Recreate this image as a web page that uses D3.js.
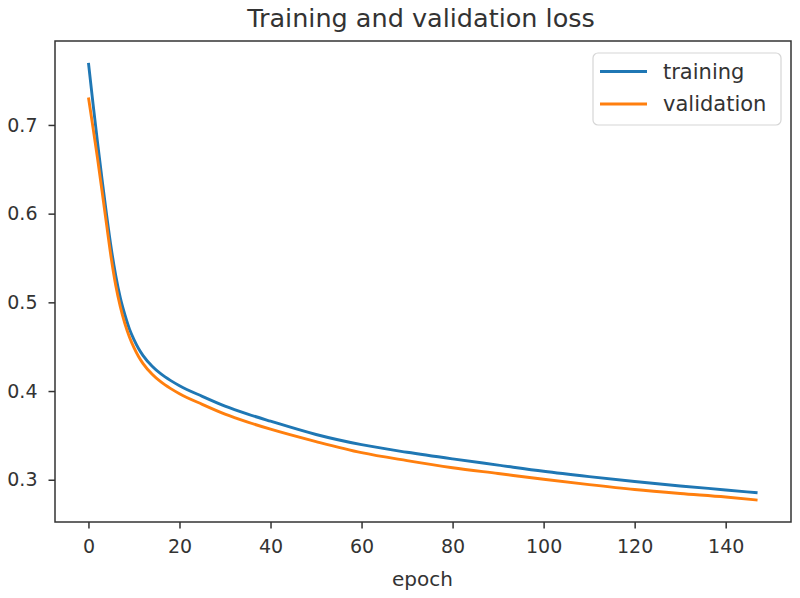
<!DOCTYPE html>
<html>
<head>
<meta charset="utf-8">
<script src="https://cdn.jsdelivr.net/npm/d3@7"></script>
<style>
  body { margin: 0; background: #fff; }
  svg text { font-family: "DejaVu Sans", sans-serif; fill: #333; }
</style>
</head>
<body>
<svg id="chart" width="800" height="598"></svg>
<script>
const epochs = [0, 1, 2, 3, 4, 5, 6, 7, 8, 9, 10, 11, 12, 14, 16, 18, 20, 25, 30, 35, 40, 50, 60, 70, 80, 90, 100, 110, 120, 130, 140, 147];
const training = [0.770, 0.724, 0.680, 0.638, 0.598, 0.561, 0.530, 0.505, 0.486, 0.470, 0.458, 0.448, 0.440, 0.428, 0.419, 0.412, 0.406, 0.394, 0.383, 0.374, 0.366, 0.351, 0.3395, 0.331, 0.3235, 0.3165, 0.3095, 0.3035, 0.298, 0.293, 0.2885, 0.2853];
const validation = [0.731, 0.697, 0.662, 0.625, 0.587, 0.550, 0.519, 0.495, 0.476, 0.461, 0.449, 0.439, 0.431, 0.419, 0.410, 0.403, 0.397, 0.385, 0.374, 0.365, 0.357, 0.343, 0.3305, 0.3215, 0.3135, 0.307, 0.3005, 0.2945, 0.289, 0.2845, 0.2805, 0.277];
const xTicks = [0, 20, 40, 60, 80, 100, 120, 140];
const yTicks = [0.3, 0.4, 0.5, 0.6, 0.7];
const series = [
  { name: "training", values: training, color: "#1f77b4" },
  { name: "validation", values: validation, color: "#ff7f0e" }
];

const svg = d3.select("#chart");
const mLeft = 55, mRight = 791, mTop = 41, mBottom = 522;

// matplotlib style 5% margins
const xExt = d3.extent(epochs);
const xPad = (xExt[1] - xExt[0]) * 0.05;
const yExt = d3.extent(training.concat(validation));
const yPad = (yExt[1] - yExt[0]) * 0.05;

const x = d3.scaleLinear().domain([xExt[0] - xPad, xExt[1] + xPad]).range([mLeft, mRight]);
const y = d3.scaleLinear().domain([yExt[0] - yPad, yExt[1] + yPad]).range([mBottom, mTop]);

const line = d3.line()
  .x(d => x(d[0]))
  .y(d => y(d[1]))
  .curve(d3.curveMonotoneX);

series.forEach(s => {
  svg.append("path")
    .datum(epochs.map((e, i) => [e, s.values[i]]))
    .attr("fill", "none")
    .attr("stroke", s.color)
    .attr("stroke-width", 2.9)
    .attr("stroke-linejoin", "round")
    .attr("d", line);
});

// axes
const xAxis = svg.append("g")
  .attr("transform", `translate(0,${mBottom})`)
  .call(d3.axisBottom(x).tickValues(xTicks).tickSize(6.5).tickPadding(11).tickFormat(d3.format("d")));
const yAxis = svg.append("g")
  .attr("transform", `translate(${mLeft},0)`)
  .call(d3.axisLeft(y).tickValues(yTicks).tickSize(6.5).tickPadding(11).tickFormat(d3.format(".1f")));

[xAxis, yAxis].forEach(g => {
  g.select(".domain").remove();
  g.selectAll("line").attr("stroke", "#333").attr("stroke-width", 1.5);
  g.selectAll("text").attr("font-size", 19).style("fill", "#333");
});

// frame
svg.append("rect")
  .attr("x", mLeft).attr("y", mTop)
  .attr("width", mRight - mLeft).attr("height", mBottom - mTop)
  .attr("fill", "none").attr("stroke", "#333").attr("stroke-width", 1.5);

// title and axis label
svg.append("text")
  .attr("x", 421).attr("y", 27)
  .attr("text-anchor", "middle").attr("font-size", 25.5)
  .text("Training and validation loss");

svg.append("text")
  .attr("x", 422.5).attr("y", 586)
  .attr("text-anchor", "middle").attr("font-size", 20)
  .text("epoch");

// legend
const legend = svg.append("g");
legend.append("rect")
  .attr("x", 593).attr("y", 53).attr("width", 188).attr("height", 72)
  .attr("rx", 5).attr("fill", "#fff").attr("fill-opacity", 0.8)
  .attr("stroke", "#d6d6d6").attr("stroke-width", 1.2);

series.forEach((s, i) => {
  const ly = 71.5 + i * 32.5;
  legend.append("line")
    .attr("x1", 600).attr("x2", 647).attr("y1", ly).attr("y2", ly)
    .attr("stroke", s.color).attr("stroke-width", 2.9);
  legend.append("text")
    .attr("x", 663).attr("y", ly).attr("dy", "0.35em")
    .attr("font-size", 21)
    .text(s.name);
});
</script>
</body>
</html>
